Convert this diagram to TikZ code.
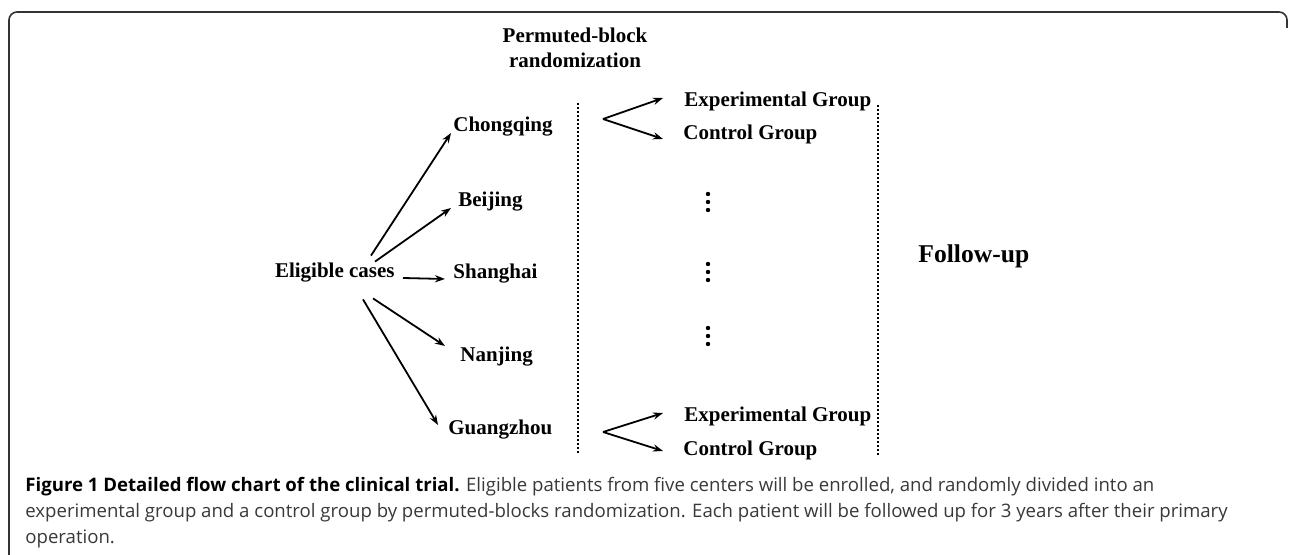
\documentclass[tikz,border=0pt]{standalone}
\usepackage{fontspec}
\setmainfont{Liberation Serif}
\newfontfamily\capfont{Open Sans}
\usetikzlibrary{arrows.meta}

\begin{document}
\begin{tikzpicture}[x=0.5pt,y=-0.5pt,
	lbl/.style={font=\bfseries\fontsize{10.5}{12}\selectfont, inner sep=1pt, text height=7pt, text depth=2pt},
	arr/.style={-{Stealth[length=5pt,width=3.6pt]}, line width=0.9pt},
	sep/.style={line width=1pt, densely dotted},
	captxt/.style={anchor=west, inner sep=0pt, font=\capfont\fontsize{9.3}{11}\selectfont, text=black!78}]

\useasboundingbox (0,0) rectangle (1290,555);
\draw[line width=0.8pt, black!80, rounded corners=4pt] (9,560) -- (9,12) -- (1287,12) -- (1287,28);

\node[lbl] (perm1) at (575,38) {Permuted-block};
\node[lbl] (perm2) at (575,63) {randomization};

\node[lbl,anchor=east] (elig) at (397,273) {Eligible cases};
\node[lbl,anchor=west] (chq) at (451,127) {Chongqing};
\node[lbl,anchor=west] (bj) at (456,202) {Beijing};
\node[lbl,anchor=west] (sh) at (451,274) {Shanghai};
\node[lbl,anchor=west] (nj) at (458,357) {Nanjing};
\node[lbl,anchor=west] (gz) at (446,430) {Guangzhou};

\node[lbl,anchor=west] (exp1) at (682,102) {Experimental Group};
\node[lbl,anchor=west] (ctl1) at (681,135) {Control Group};
\node[lbl,anchor=west] (exp2) at (682,417) {Experimental Group};
\node[lbl,anchor=west] (ctl2) at (681,450) {Control Group};

\node[lbl,anchor=west,font=\bfseries\fontsize{12.8}{14}\selectfont] (fup) at (916,258) {Follow-up};

\coordinate (top1) at (578,103);
\coordinate (bot1) at (578,455);
\coordinate (top2) at (878,105);
\coordinate (bot2) at (878,455);
\draw[sep] (top1) -- (bot1);
\draw[sep] (top2) -- (bot2);

\foreach \y in {202,272,336}{
	\foreach \d in {-8,0,8}
		\fill (708,\y+\d) circle (2.2);
}

\draw[arr] ([xshift=-13pt,yshift=3pt]elig.north east) -- ([yshift=-3pt]chq.west);
\draw[arr] ([xshift=-11pt]elig.north east) -- ([xshift=-2.5pt,yshift=-3pt]bj.west);
\draw[arr] ([xshift=3pt,yshift=-2.5pt]elig.east) -- ([xshift=-3pt,yshift=-2.5pt]sh.west);
\draw[arr] ([xshift=-12pt,yshift=-7pt]elig.south east) -- ([xshift=-6.5pt,yshift=5.5pt]nj.west);
\draw[arr] ([xshift=-17pt,yshift=-7.5pt]elig.south east) -- ([xshift=-4pt,yshift=2.5pt]gz.west);

\coordinate (fk1) at (603,119);
\coordinate (fk2) at (603,432);
\draw[arr] (fk1) -- ([xshift=-9.5pt,yshift=2pt]exp1.west);
\draw[arr] (fk1) -- ([xshift=-9pt,yshift=-2pt]ctl1.west);
\draw[arr] (fk2) -- ([xshift=-9.5pt,yshift=2pt]exp2.west);
\draw[arr] (fk2) -- ([xshift=-9pt,yshift=-0.5pt]ctl2.west);

\node[captxt] (cap1) at (25,487) {\textbf{\textcolor{black}{Figure 1 Detailed flow chart of the clinical trial.}} Eligible patients from five centers will be enrolled, and randomly divided into an};
\node[captxt] (cap2) at (25,513) {experimental group and a control group by permuted-blocks randomization. Each patient will be followed up for 3 years after their primary};
\node[captxt] (cap3) at (25,539) {operation.};

\end{tikzpicture}
\end{document}
